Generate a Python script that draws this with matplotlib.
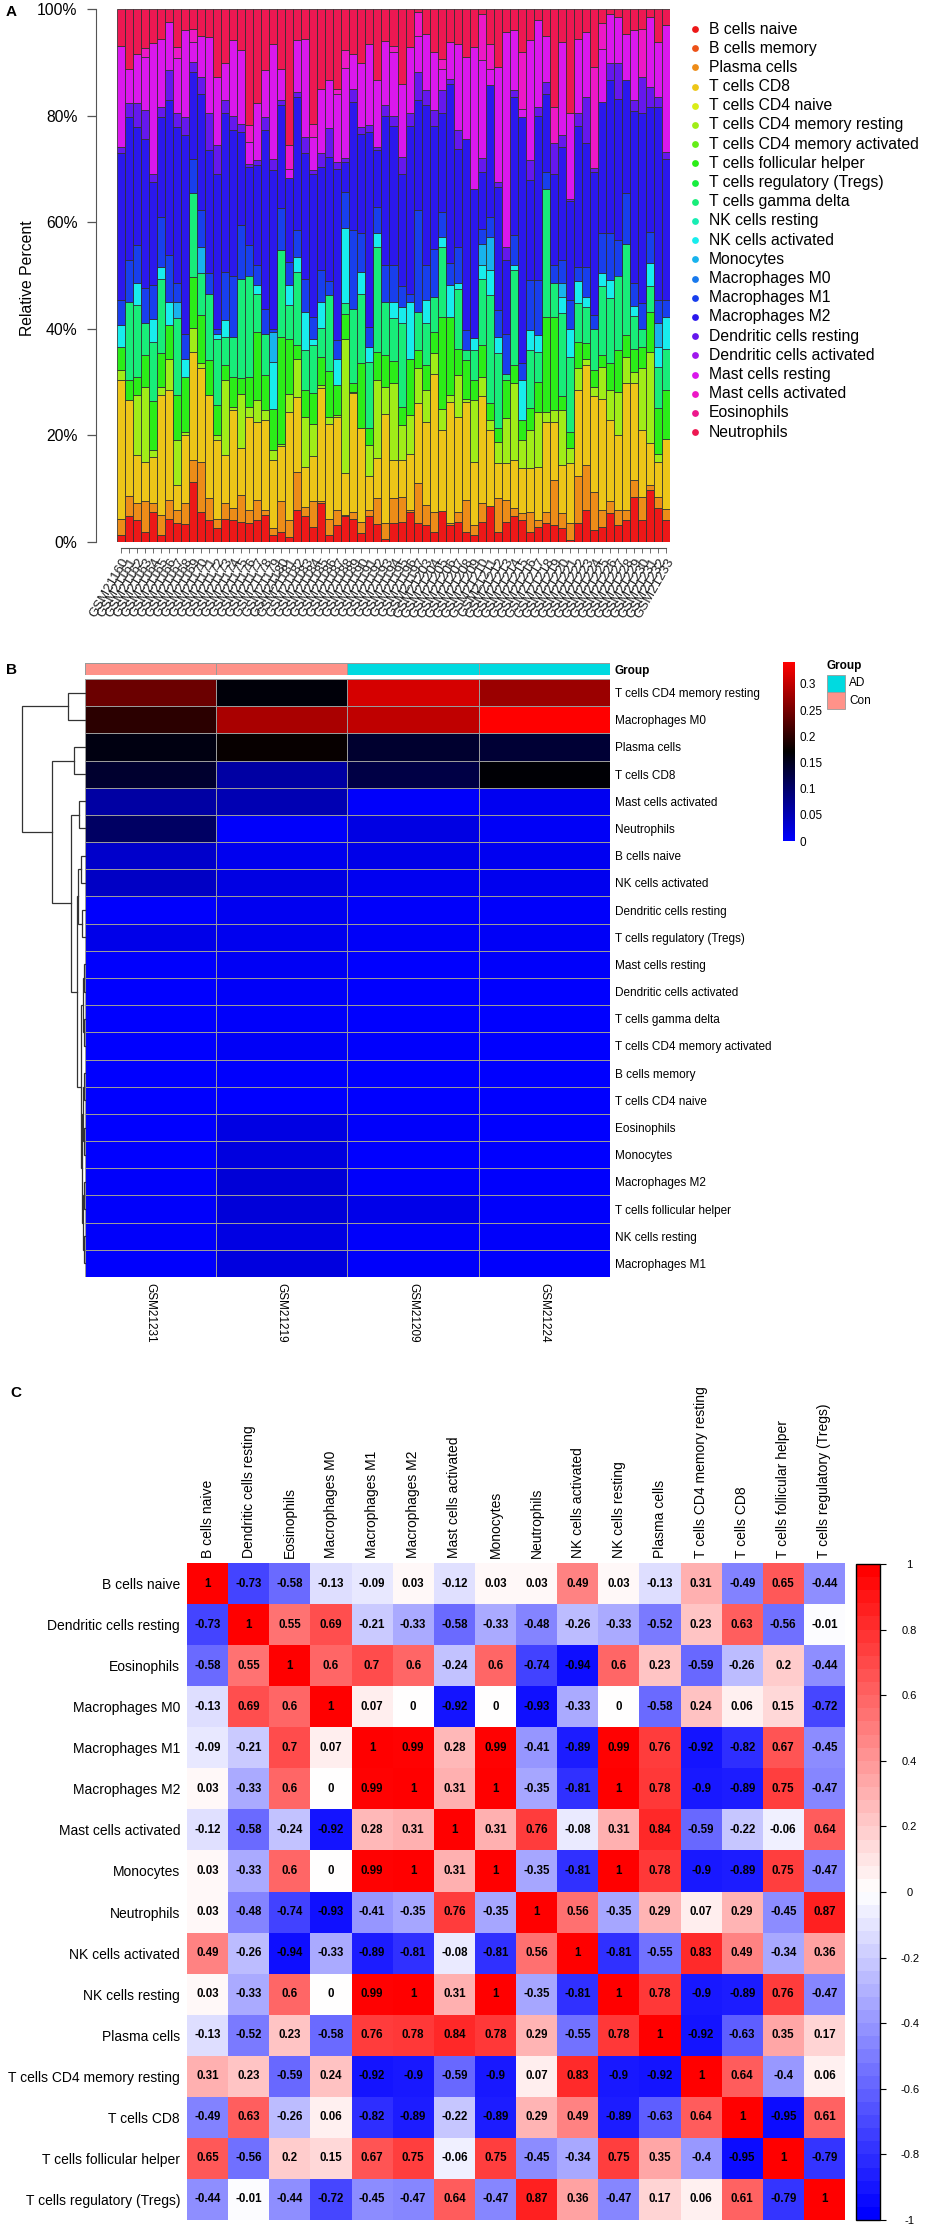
import colorsys
import numpy as np
import matplotlib
matplotlib.use("Agg")
import matplotlib.pyplot as plt
from matplotlib.colors import LinearSegmentedColormap, ListedColormap, Normalize
from matplotlib.cm import ScalarMappable
from matplotlib.patches import Rectangle

plt.rcParams["font.family"] = ["Liberation Sans", "DejaVu Sans"]
plt.rcParams["axes.unicode_minus"] = False

W, H = 925, 2229

# ---------------- panel A data (cumulative % at the top of each cell type) ----------------
sample_ids = """GSM21160 GSM21161 GSM21162 GSM21163 GSM21164 GSM21165 GSM21166 GSM21167 GSM21168
GSM21169 GSM21170 GSM21171 GSM21172 GSM21173 GSM21174 GSM21175 GSM21176 GSM21177 GSM21178
GSM21179 GSM21180 GSM21181 GSM21182 GSM21183 GSM21184 GSM21185 GSM21186 GSM21187 GSM21188
GSM21189 GSM21190 GSM21191 GSM21192 GSM21193 GSM21194 GSM21195 GSM21196 GSM21197 GSM21203
GSM21204 GSM21205 GSM21206 GSM21207 GSM21208 GSM21209 GSM21210 GSM21211 GSM21212 GSM21213
GSM21214 GSM21215 GSM21216 GSM21217 GSM21218 GSM21219 GSM21220 GSM21221 GSM21222 GSM21223
GSM21224 GSM21225 GSM21226 GSM21227 GSM21228 GSM21229 GSM21230 GSM21231 GSM21232 GSM21233""".split()

cell_types = ["B cells naive", "B cells memory", "Plasma cells", "T cells CD8",
              "T cells CD4 naive", "T cells CD4 memory resting",
              "T cells CD4 memory activated", "T cells follicular helper",
              "T cells regulatory (Tregs)", "T cells gamma delta", "NK cells resting",
              "NK cells activated", "Monocytes", "Macrophages M0", "Macrophages M1",
              "Macrophages M2", "Dendritic cells resting", "Dendritic cells activated",
              "Mast cells resting", "Mast cells activated", "Eosinophils", "Neutrophils"]

top_b_naive = [1.3, 4.8, 4.1, 1.9, 5.7, 1.3, 4.4, 3.5, 3.4, 11.3,
               5.7, 4.1, 2.6, 4.4, 4.1, 3.7, 3.5, 4.2, 5.1, 1.3,
               1.8, 1, 6, 4.8, 2.9, 7.3, 1.3, 3.2, 4.8, 4.4,
               1.6, 4.8, 3.4, 0.5, 3.5, 3.7, 5.7, 3.6, 3.2, 1.9,
               5.9, 3.2, 3.8, 1.9, 1.3, 3.8, 6.8, 1.9, 3.8, 4.8,
               4.1, 1.9, 2.9, 3.5, 3.2, 2.6, 0.4, 3.5, 6, 2.3,
               2.9, 5.5, 3.2, 4.1, 8.5, 4.1, 9.8, 6.3, 4.1]
top_plasma = [4.4, 8.6, 7.3, 7.6, 7.3, 5.1, 7.9, 6, 7.3, 15.4,
              15.1, 8.2, 4.4, 7.3, 6.3, 8.8, 6, 7.9, 6, 2.6,
              7.6, 4.1, 13.2, 6.6, 7.6, 7.6, 4.4, 6, 5.1, 5.7,
              3.8, 6, 8.2, 3.6, 8.2, 8.5, 6, 11, 6.9, 5.7,
              5.9, 3.5, 5.7, 7.9, 3.2, 7.3, 6.8, 8.2, 7.9, 6.3,
              5.4, 5.7, 4.1, 5.7, 11.6, 5.4, 3.5, 12.3, 14.4, 9.4,
              6, 7.6, 6, 6, 11.6, 8.5, 10.7, 8.5, 6.1]
top_cd8 = [30.4, 26.6, 16.3, 15.1, 16, 27.6, 28.6, 10.7, 20.1, 35.7,
           32.6, 27.6, 19.1, 16.3, 24.8, 17.6, 23.5, 22.6, 22.9, 15.4,
           18.1, 24.4, 27.2, 14.1, 16.1, 28.8, 22.2, 23.5, 12.9, 27.9,
           21.4, 12.3, 15.7, 24.1, 15.4, 15.4, 16.6, 26, 22.6, 31.6,
           21, 26.3, 23.5, 26.3, 15.1, 27.3, 21, 14.8, 14.8, 15.4,
           13.8, 13.8, 14.1, 22.6, 22.6, 14.4, 14.8, 28.5, 33.2, 27.3,
           26.9, 22.9, 20.1, 29.8, 29.8, 21, 18.5, 15.1, 19.4]
top_cd4_mem_rest = [32.3, 26.6, 27.6, 29.1, 17.3, 29.1, 34.4, 19.1, 20.7, 40.1,
                    33.6, 27.6, 20.1, 30.4, 25.4, 27.8, 25.4, 26.6, 24.8, 17.3,
                    18.4, 27.8, 34.4, 23.5, 22.1, 29.4, 23.5, 23.8, 38.1, 28.2,
                    21.4, 18.2, 30.4, 29.1, 29.8, 21.9, 23.8, 32.6, 28.5, 35.4,
                    25, 27.6, 31.3, 26.9, 26.6, 31, 22.9, 18.8, 23.2, 29.8,
                    19.1, 21, 24.4, 24.4, 24.8, 24.8, 17.6, 32.6, 34.4, 29.1,
                    32.9, 28.5, 28.2, 34.8, 31.9, 32.6, 35.7, 16.6, 19.4]
top_tfh = [36.6, 30.4, 31, 35.1, 26.4, 35.4, 40.7, 27.6, 31, 49.8,
           42.6, 34.1, 25.7, 33.2, 30.9, 30.7, 30.9, 39.4, 31.3, 25,
           38.5, 38.1, 36.9, 28.5, 27.9, 34.8, 32, 29.4, 42.8, 29.8,
           33.5, 21.4, 35.7, 35, 34, 25.4, 34.4, 36, 33.2, 39.4,
           42.3, 42.3, 36.3, 34.1, 30.4, 36.9, 26, 21.3, 30.4, 33.2,
           22.9, 25.1, 30, 42.3, 42.3, 27.3, 20.7, 37.6, 37.3, 32.3,
           35.1, 33.5, 36, 38.8, 36.3, 36.6, 43.2, 25.1, 28.5]
top_gamma_delta = [36.6, 45, 44.4, 41, 37.6, 49.4, 40.7, 42.1, 31, 65.4,
                   50.4, 46.6, 38, 38.5, 38.5, 49.4, 50, 46.6, 39.1, 25,
                   54.8, 44.4, 50.7, 36, 37, 40.2, 46.3, 29.4, 44.8, 43.8,
                   46.6, 33.8, 55.4, 45, 42, 41, 34.4, 43.2, 41, 46,
                   55.4, 42.3, 47.5, 36, 36, 49.4, 46.3, 35.4, 31.6, 51,
                   22.9, 36, 35.7, 66.3, 48.5, 42.9, 34.8, 44.8, 44, 40,
                   48, 45.7, 50, 56, 42.4, 40, 48, 32.9, 36.3]
top_nk_act = [40.7, 45, 48.5, 41, 41.9, 51.6, 45, 42.1, 34.4, 65.4,
              50.4, 46.6, 39, 41.6, 38.5, 49.4, 50, 48.2, 39.1, 33.8,
              54.8, 48.2, 53.5, 43.2, 38, 45, 46.3, 34.4, 59, 43.8,
              50.7, 36.6, 57.9, 45, 45, 44, 45, 43.2, 45.4, 46,
              57.3, 48.2, 48.5, 36, 38.2, 52, 51, 38.5, 31.6, 51.9,
              30.4, 39.8, 38.8, 66.3, 48.5, 46, 40, 49, 46, 40,
              50.5, 49.1, 50, 56, 44.3, 40, 52.3, 36.6, 42.3]
top_monocytes = [40.7, 45, 48.5, 41, 41.9, 51.6, 45, 45, 34.4, 65.4,
                 55.4, 46.6, 39, 41.6, 38.5, 49.4, 50, 48.2, 39.1, 39.4,
                 54.8, 48.2, 53.5, 43.2, 38, 45, 46.3, 34.4, 59, 43.8,
                 50.7, 36.6, 57.9, 45, 45, 44, 45, 43.2, 45.4, 46,
                 57.3, 48.2, 48.5, 36, 38.2, 56, 57.3, 38.5, 31.6, 51.9,
                 30.4, 39.8, 38.8, 66.3, 48.5, 48.5, 40, 49, 46, 40,
                 50.5, 49.1, 50, 56, 44.3, 40, 52.3, 41, 42.3]
top_macro_m1 = [45.4, 52.9, 55.7, 47.6, 48.2, 61, 53.8, 48.5, 39.1, 71.9,
                62.3, 50.4, 40, 50.7, 50, 59.4, 55.7, 51.9, 43.8, 40,
                62.6, 52.6, 58.5, 49.4, 42.3, 51, 49, 37.9, 65.7, 58.5,
                57.9, 40.4, 62.9, 52, 52, 48, 46.6, 62.3, 52, 55,
                62, 52.3, 55.4, 39.8, 38.2, 58.8, 61, 43.5, 39.1, 57.6,
                33.5, 49.1, 49.1, 69.4, 52, 52.9, 45.4, 51.6, 51.6, 42.6,
                57.9, 57.9, 56.6, 65.4, 48.5, 44.8, 58.2, 45.4, 45.4]
top_macro_m2 = [72.9, 79.8, 77.9, 75.7, 67.6, 79.8, 82.9, 77.9, 76.3, 88.2,
                84, 73.5, 69.1, 80.4, 77.3, 76.9, 70.4, 70.7, 77.3, 69.8,
                81.9, 68.2, 83.5, 72.9, 69, 70.4, 72.3, 70, 71.3, 82.5,
                76.5, 76.9, 73.5, 80, 78, 69.1, 78, 82.9, 82, 78,
                80.4, 86, 73.8, 75.7, 66.3, 69.4, 85.7, 66.6, 52.9, 83.5,
                79.8, 67.9, 80, 84, 69.1, 74.1, 64, 78, 74.8, 69.4,
                82.6, 86.6, 83.2, 86.6, 80.9, 80.4, 81.6, 81.6, 71.9]
top_dc_rest = [74.1, 82.4, 82.3, 81, 69.1, 81.6, 88.5, 80.4, 79.8, 90,
               87.3, 80.4, 74.4, 82.9, 80, 78.5, 71, 71.6, 79.8, 71.9,
               82.9, 68.2, 84.4, 76, 69.8, 72.9, 77.6, 71.3, 72, 85,
               77.9, 78.2, 74.1, 82, 80, 72.3, 80.4, 88.2, 84.8, 81,
               84.8, 86.9, 77.3, 75.7, 66.3, 72, 85.7, 67.6, 55.4, 84.8,
               79.8, 71.6, 81.6, 86.3, 74.8, 76.3, 64.4, 80.4, 83.5, 70.1,
               82.6, 89.8, 89.8, 86.6, 82.9, 87.3, 85.4, 83.5, 73.2]
top_mast_rest = [93, 88.8, 91.6, 91, 93.6, 94.3, 97.6, 90.8, 96, 93.8,
                 95, 94.8, 87.3, 89.8, 94.1, 92.3, 75, 82.3, 88.5, 93.5,
                 88.8, 70, 94.1, 94.4, 76, 85, 86.6, 84, 89, 91.6,
                 89.8, 93.5, 86.6, 94, 92, 86, 92.9, 95, 95.4, 92,
                 88.8, 93.8, 93.5, 91, 92.9, 90.4, 88.8, 89.1, 95.7, 96,
                 81.3, 94.1, 97.9, 95, 74.8, 93.8, 80.4, 94.4, 95.7, 70.1,
                 92.5, 99.1, 98.5, 95.4, 96, 87.3, 98.5, 93.8, 97]
top_mast_act = [93, 88.8, 91.6, 92.6, 93.6, 94.3, 97.6, 92.9, 96, 96.3,
                95, 94.8, 87.3, 89.8, 94.1, 92.3, 78.2, 82.3, 88.5, 93.5,
                88.8, 74.4, 94.1, 94.4, 78.5, 85, 86.6, 85, 92.3, 91.6,
                89.8, 93.5, 86.6, 94, 93, 86, 92.9, 99.4, 95.4, 92,
                90.7, 93.8, 93.5, 91, 92.9, 99, 93.5, 89.1, 95.7, 96,
                91.9, 94.1, 97.9, 95, 81.6, 93.8, 80.4, 94.4, 95.7, 89.1,
                97.3, 99.1, 98.5, 95.4, 96, 96.3, 98.5, 93.8, 97]

# ---------------- panel B data ----------------
heat_rows = ["T cells CD4 memory resting", "Macrophages M0", "Plasma cells", "T cells CD8",
             "Mast cells activated", "Neutrophils", "B cells naive", "NK cells activated",
             "Dendritic cells resting", "T cells regulatory (Tregs)", "Mast cells resting",
             "Dendritic cells activated", "T cells gamma delta", "T cells CD4 memory activated",
             "B cells memory", "T cells CD4 naive", "Eosinophils", "Monocytes",
             "Macrophages M2", "T cells follicular helper", "NK cells resting", "Macrophages M1"]
heat_samples = ["GSM21231", "GSM21219", "GSM21209", "GSM21224"]
heat_groups = ["Con", "Con", "AD", "AD"]
heat_gsm21231 = [0.243, 0.200, 0.160, 0.140, 0.062, 0.105, 0.035, 0.040, 0.002, 0.015, 0.002,
                 0.001, 0.000, 0.000, 0.000, 0.000, 0.000, 0.000, 0.003, 0.003, 0.004, 0.002]
heat_gsm21219 = [0.165, 0.284, 0.176, 0.062, 0.052, 0.004, 0.012, 0.020, 0.010, 0.012, 0.008,
                 0.005, 0.004, 0.006, 0.002, 0.001, 0.020, 0.022, 0.027, 0.026, 0.020, 0.022]
heat_gsm21209 = [0.313, 0.299, 0.140, 0.125, 0.003, 0.020, 0.015, 0.010, 0.004, 0.005, 0.000,
                 0.001, 0.000, 0.002, 0.000, 0.000, 0.004, 0.000, 0.004, 0.015, 0.004, 0.003]
heat_gsm21224 = [0.274, 0.342, 0.135, 0.168, 0.010, 0.006, 0.010, 0.012, 0.003, 0.006, 0.003,
                 0.000, 0.000, 0.000, 0.001, 0.000, 0.000, 0.000, 0.002, 0.004, 0.003, 0.002]
# row dendrogram, hclust style: negative = leaf (1-based), positive = earlier merge
row_merges = [(-7, -8, 0.06), (-9, -10, 0.05), (1, 2, 0.11), (-11, -12, 0.02),
              (-13, -14, 0.02), (4, 5, 0.035), (-15, -16, 0.015), (-17, -18, 0.02),
              (7, 8, 0.03), (-19, -20, 0.01), (-21, -22, 0.015), (10, 11, 0.025),
              (9, 12, 0.045), (6, 13, 0.07), (3, 14, 0.13), (-5, -6, 0.095),
              (16, 15, 0.22), (-3, -4, 0.18), (18, 17, 0.52), (-1, -2, 0.27),
              (20, 19, 1.0)]

# ---------------- panel C data ----------------
corr_labels = ["B cells naive", "Dendritic cells resting", "Eosinophils", "Macrophages M0",
               "Macrophages M1", "Macrophages M2", "Mast cells activated", "Monocytes",
               "Neutrophils", "NK cells activated", "NK cells resting", "Plasma cells",
               "T cells CD4 memory resting", "T cells CD8", "T cells follicular helper",
               "T cells regulatory (Tregs)"]
corr_values = [
    [1, -0.73, -0.58, -0.13, -0.09, 0.03, -0.12, 0.03, 0.03, 0.49, 0.03, -0.13, 0.31, -0.49, 0.65, -0.44],
    [-0.73, 1, 0.55, 0.69, -0.21, -0.33, -0.58, -0.33, -0.48, -0.26, -0.33, -0.52, 0.23, 0.63, -0.56, -0.01],
    [-0.58, 0.55, 1, 0.6, 0.7, 0.6, -0.24, 0.6, -0.74, -0.94, 0.6, 0.23, -0.59, -0.26, 0.2, -0.44],
    [-0.13, 0.69, 0.6, 1, 0.07, 0, -0.92, 0, -0.93, -0.33, 0, -0.58, 0.24, 0.06, 0.15, -0.72],
    [-0.09, -0.21, 0.7, 0.07, 1, 0.99, 0.28, 0.99, -0.41, -0.89, 0.99, 0.76, -0.92, -0.82, 0.67, -0.45],
    [0.03, -0.33, 0.6, 0, 0.99, 1, 0.31, 1, -0.35, -0.81, 1, 0.78, -0.9, -0.89, 0.75, -0.47],
    [-0.12, -0.58, -0.24, -0.92, 0.28, 0.31, 1, 0.31, 0.76, -0.08, 0.31, 0.84, -0.59, -0.22, -0.06, 0.64],
    [0.03, -0.33, 0.6, 0, 0.99, 1, 0.31, 1, -0.35, -0.81, 1, 0.78, -0.9, -0.89, 0.75, -0.47],
    [0.03, -0.48, -0.74, -0.93, -0.41, -0.35, 0.76, -0.35, 1, 0.56, -0.35, 0.29, 0.07, 0.29, -0.45, 0.87],
    [0.49, -0.26, -0.94, -0.33, -0.89, -0.81, -0.08, -0.81, 0.56, 1, -0.81, -0.55, 0.83, 0.49, -0.34, 0.36],
    [0.03, -0.33, 0.6, 0, 0.99, 1, 0.31, 1, -0.35, -0.81, 1, 0.78, -0.9, -0.89, 0.76, -0.47],
    [-0.13, -0.52, 0.23, -0.58, 0.76, 0.78, 0.84, 0.78, 0.29, -0.55, 0.78, 1, -0.92, -0.63, 0.35, 0.17],
    [0.31, 0.23, -0.59, 0.24, -0.92, -0.9, -0.59, -0.9, 0.07, 0.83, -0.9, -0.92, 1, 0.64, -0.4, 0.06],
    [-0.49, 0.63, -0.26, 0.06, -0.82, -0.89, -0.22, -0.89, 0.29, 0.49, -0.89, -0.63, 0.64, 1, -0.95, 0.61],
    [0.65, -0.56, 0.2, 0.15, 0.67, 0.75, -0.06, 0.75, -0.45, -0.34, 0.75, 0.35, -0.4, -0.95, 1, -0.79],
    [-0.44, -0.01, -0.44, -0.72, -0.45, -0.47, 0.64, -0.47, 0.87, 0.36, -0.47, 0.17, 0.06, 0.61, -0.79, 1],
]

fig = plt.figure(figsize=(W / 100, H / 100), dpi=100)


def px_axes(x0, y0, x1, y1):
    return fig.add_axes([x0 / W, 1 - y1 / H, (x1 - x0) / W, (y1 - y0) / H])


def fig_text(x, y, s, **kw):
    fig.text(x / W, 1 - y / H, s, **kw)


# rainbow(22) like R
rainbow = [colorsys.hsv_to_rgb(i / 22, 0.9, 0.93) for i in range(22)]

# ================= A: stacked bars =================
axA = px_axes(117, 9, 670, 542)
n = len(sample_ids)
xs = np.arange(n)
stack = [(top_b_naive, 0), (top_plasma, 2), (top_cd8, 3), (top_cd4_mem_rest, 5),
         (top_tfh, 7), (top_gamma_delta, 9), (top_nk_act, 11), (top_monocytes, 12),
         (top_macro_m1, 14), (top_macro_m2, 15), (top_dc_rest, 16), (top_mast_rest, 18),
         (top_mast_act, 19), (np.full(n, 100.0), 21)]
prev = np.zeros(n)
for top, ci in stack:
    top = np.asarray(top, dtype=float)
    h = top - prev
    m = h > 0
    axA.bar(xs[m], h[m], bottom=prev[m], width=1.0, color=rainbow[ci],
            edgecolor="#2e2e2e", linewidth=0.55)
    prev = top
axA.set_xlim(-0.5, n - 0.5)
axA.set_ylim(0, 100)
for s in ["top", "right"]:
    axA.spines[s].set_visible(False)
axA.spines["left"].set_position(("outward", 15))
axA.spines["left"].set_bounds(0, 100)
axA.spines["bottom"].set_position(("outward", 4.5))
axA.spines["bottom"].set_bounds(0, n - 1)
for s in ["left", "bottom"]:
    axA.spines[s].set_color("#555555")
axA.set_yticks(np.arange(0, 101, 20))
axA.set_yticklabels([f"{v}%" for v in range(0, 101, 20)], fontsize=11.3)
axA.tick_params(axis="y", length=6.5, width=0.9, color="#555555", pad=7)
axA.set_xticks(xs)
axA.set_xticklabels(sample_ids, rotation=60, ha="right", va="top",
                    rotation_mode="anchor", fontsize=9.5, color="#222222")
axA.tick_params(axis="x", length=3.5, width=0.6, color="#555555", pad=2)
fig_text(28, 278, "Relative Percent", rotation=90, ha="center", va="center", fontsize=11.3)
fig_text(6, 12, "A", fontsize=11, fontweight="bold", va="center")

axLeg = px_axes(680, 0, 925, 460)
axLeg.set_xlim(680, 925)
axLeg.set_ylim(460, 0)
axLeg.axis("off")
for i, name in enumerate(cell_types):
    yy = 29 + 19.2 * i
    axLeg.scatter([695], [yy], s=24, color=rainbow[i], linewidths=0)
    axLeg.text(709, yy, name, va="center", ha="left", fontsize=11.3)

# ================= B: heatmap =================
heat = np.column_stack([heat_gsm21231, heat_gsm21219, heat_gsm21209, heat_gsm21224])
cmap_b = LinearSegmentedColormap.from_list("bkr", ["#0000FF", "#000000", "#FF0000"])
norm_b = Normalize(heat.min(), heat.max())

axB = px_axes(85, 679, 610, 1277)
axB.pcolormesh(heat, cmap=cmap_b, norm=norm_b, edgecolors="#9a9a9a", linewidth=0.7)
axB.set_xlim(0, 4)
axB.set_ylim(len(heat_rows), 0)
for s in axB.spines.values():
    s.set_visible(False)
axB.yaxis.tick_right()
axB.set_yticks(np.arange(len(heat_rows)) + 0.5)
axB.set_yticklabels(heat_rows, fontsize=8.5)
axB.tick_params(axis="y", length=0, pad=3.5)
axB.set_xticks(np.arange(4) + 0.5)
axB.set_xticklabels(heat_samples, rotation=270, fontsize=8.5)
axB.tick_params(axis="x", length=0, pad=4)

con_col, ad_col = "#FF9289", "#00DAE0"
axG = px_axes(85, 663, 610, 675)
axG.pcolormesh(np.array([[0 if g == "Con" else 1 for g in heat_groups]]),
               cmap=ListedColormap([con_col, ad_col]), vmin=0, vmax=1,
               edgecolors="#9a9a9a", linewidth=0.7)
axG.set_xlim(0, 4)
axG.set_ylim(1, 0)
for s in axG.spines.values():
    s.set_visible(False)
axG.set_xticks([])
axG.yaxis.tick_right()
axG.set_yticks([0.5])
axG.set_yticklabels(["Group"], fontsize=8.5, fontweight="bold")
axG.tick_params(axis="y", length=0, pad=3.5)

# dendrogram from merge table
axD = px_axes(22, 679, 85, 1277)
axD.set_xlim(1.0, 0)
axD.set_ylim(len(heat_rows), 0)
axD.axis("off")
pos, hgt = {}, {}


def node(k):
    if k < 0:
        return -k - 0.5, 0.0
    return pos[k], hgt[k]


for k, (a, b, h) in enumerate(row_merges, start=1):
    ya, ha = node(a)
    yb, hb = node(b)
    axD.plot([ha, h, h, hb], [ya, ya, yb, yb], color="#333333", lw=0.9,
             clip_on=False, solid_joinstyle="miter")
    pos[k] = (ya + yb) / 2
    hgt[k] = h

cax_b = px_axes(783, 662, 795, 841)
cb_b = fig.colorbar(ScalarMappable(norm=norm_b, cmap=cmap_b), cax=cax_b,
                    ticks=[0, 0.05, 0.1, 0.15, 0.2, 0.25, 0.3])
cb_b.outline.set_visible(False)
cb_b.ax.set_yticklabels([f"{t:g}" for t in [0, 0.05, 0.1, 0.15, 0.2, 0.25, 0.3]])
cax_b.tick_params(length=0, labelsize=8.5, pad=3)

axGL = px_axes(820, 655, 925, 715)
axGL.set_xlim(820, 925)
axGL.set_ylim(715, 655)
axGL.axis("off")
axGL.text(827, 666, "Group", fontsize=8.5, fontweight="bold", va="center")
for j, (lab, col) in enumerate([("AD", ad_col), ("Con", con_col)]):
    axGL.add_patch(Rectangle((827, 675 + 17 * j), 18, 17, facecolor=col,
                             edgecolor="#9a9a9a", linewidth=0.6))
    axGL.text(849, 683.5 + 17 * j, lab, fontsize=8.5, va="center")
fig_text(6, 670, "B", fontsize=11, fontweight="bold", va="center")

# ================= C: correlation matrix =================
corr = np.array(corr_values, dtype=float)
cmap_c = LinearSegmentedColormap.from_list("bwr2", ["#0000FF", "#FFFFFF", "#FF0000"])
axC = px_axes(187, 1563, 845, 2220)
axC.pcolormesh(corr, cmap=cmap_c, vmin=-1, vmax=1)
nc = len(corr_labels)
axC.set_xlim(0, nc)
axC.set_ylim(nc, 0)
for s in axC.spines.values():
    s.set_visible(False)
for i in range(nc):
    for j in range(nc):
        axC.text(j + 0.5, i + 0.5, f"{corr[i, j]:g}", ha="center", va="center",
                 fontsize=8.3, fontweight="bold", color="black")
axC.xaxis.tick_top()
axC.set_xticks(np.arange(nc) + 0.5)
axC.set_xticklabels(corr_labels, rotation=90, fontsize=10)
axC.tick_params(axis="x", length=0, pad=3.5)
axC.set_yticks(np.arange(nc) + 0.5)
axC.set_yticklabels(corr_labels, fontsize=10)
axC.tick_params(axis="y", length=0, pad=5)

cax_c = px_axes(856, 1564, 880, 2220)
band = LinearSegmentedColormap.from_list("bwr_band", ["#0000FF", "#FFFFFF", "#FF0000"], N=50)
cticks = np.round(np.linspace(-1, 1, 11), 1)
cb_c = fig.colorbar(ScalarMappable(norm=Normalize(-1, 1), cmap=band), cax=cax_c, ticks=cticks)
cb_c.outline.set_linewidth(1.0)
cb_c.outline.set_edgecolor("black")
cb_c.ax.set_yticklabels([f"{t:g}" for t in cticks])
cax_c.tick_params(length=4.3, width=0.8, labelsize=8, pad=17)
for lbl in cax_c.get_yticklabels():
    lbl.set_ha("center")
fig_text(10, 1393, "C", fontsize=11, fontweight="bold", va="center")

fig.savefig("out.png", dpi=100)
